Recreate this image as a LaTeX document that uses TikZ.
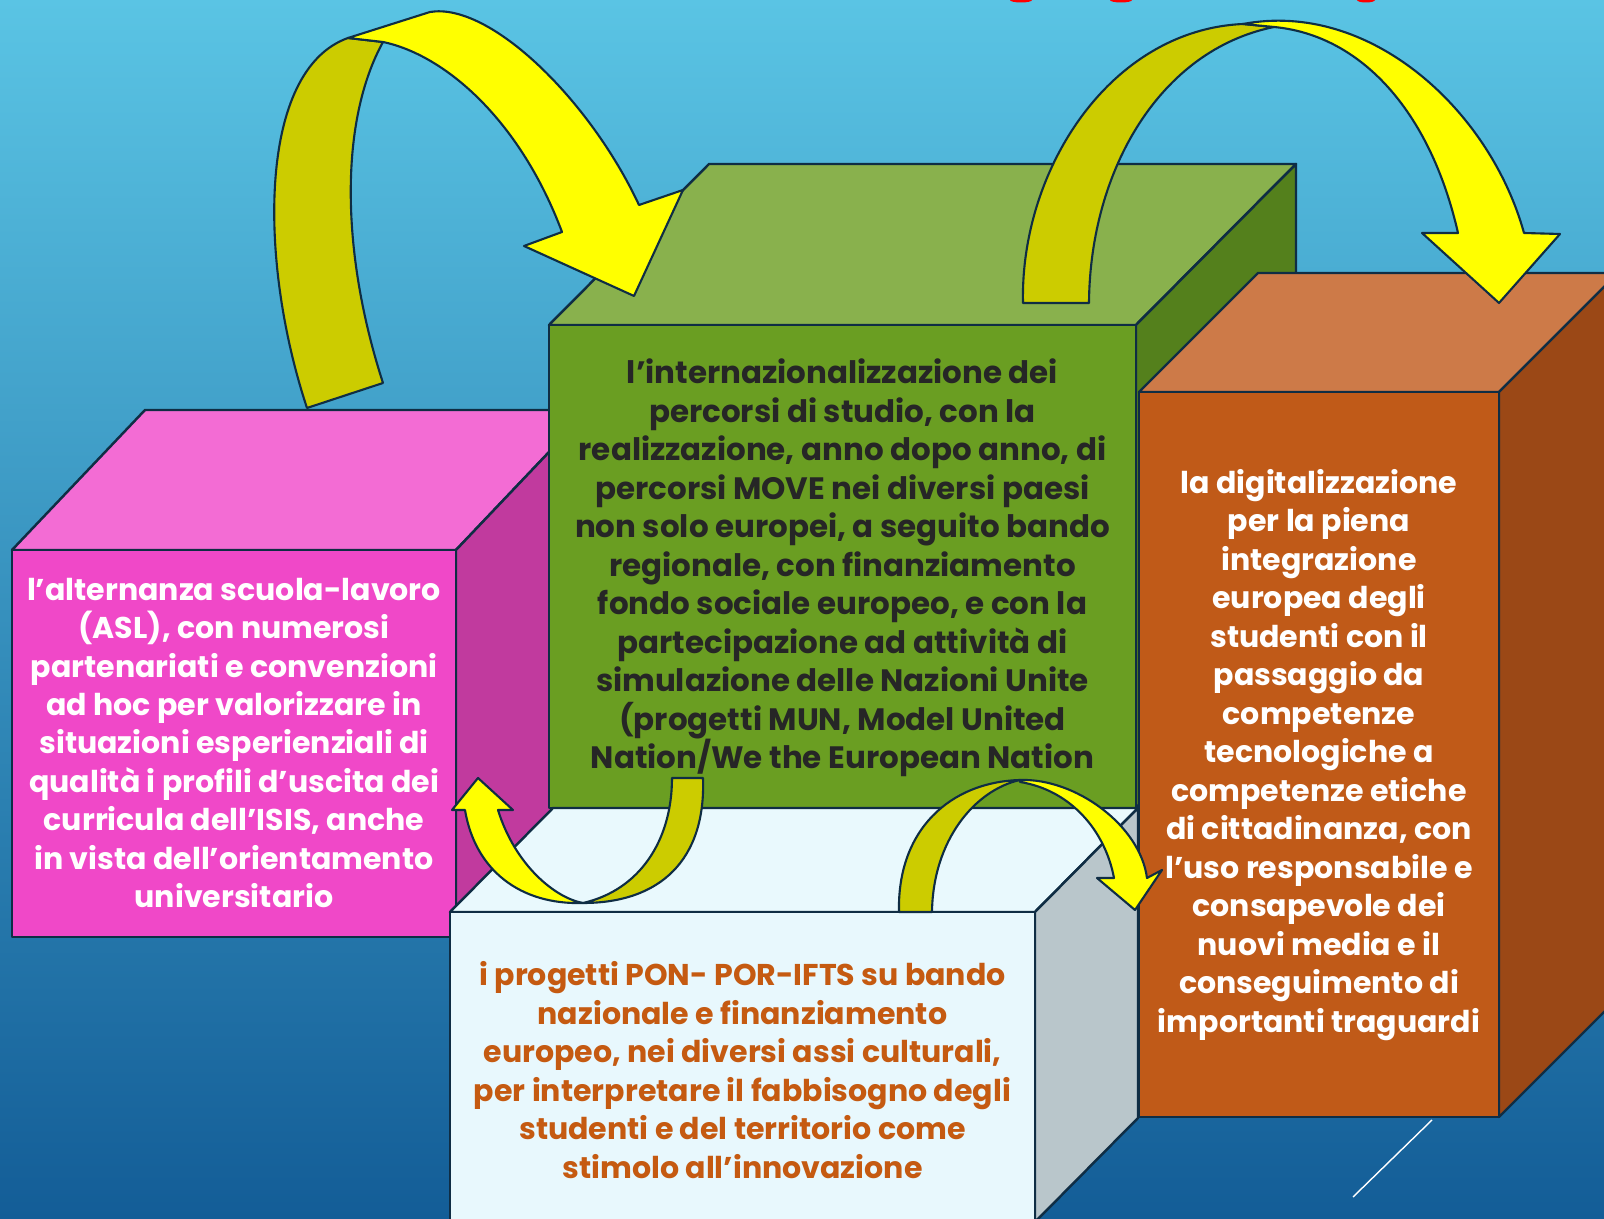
\documentclass[tikz,border=0pt]{standalone}
\usepackage{fontspec}
\setmainfont{Poppins}
\usepackage{tkz-euclide}
\definecolor{bgtop}{HTML}{5AC4E4}
\definecolor{bgbot}{HTML}{135D97}
\definecolor{edge}{HTML}{0F2D44}
\definecolor{pinkfront}{HTML}{F048C8}
\definecolor{pinktop}{HTML}{F36CD4}
\definecolor{pinkside}{HTML}{C13A9E}
\definecolor{greenfront}{HTML}{6A9E22}
\definecolor{greentop}{HTML}{89B14D}
\definecolor{greenside}{HTML}{54801C}
\definecolor{orangefront}{HTML}{C05A18}
\definecolor{orangetop}{HTML}{CD7A48}
\definecolor{orangeside}{HTML}{9B4816}
\definecolor{icefront}{HTML}{E8F8FD}
\definecolor{icetop}{HTML}{E9F9FD}
\definecolor{iceside}{HTML}{B9C6CB}
\definecolor{arrowlight}{HTML}{FFFF00}
\definecolor{arrowdark}{HTML}{CCCC00}
\definecolor{darktext}{HTML}{262626}
\definecolor{rusttext}{HTML}{C55A11}
\tikzset{face/.style={draw=edge, line width=0.7pt, line join=round},
  ribbon/.style={draw=edge, line width=0.6pt, line join=round},
  boxtext/.style={align=center, inner sep=0pt, font=\bfseries\fontsize{8.55}{10.95}\selectfont}}

\begin{document}
\begin{tikzpicture}
\useasboundingbox (0,0) rectangle (16.04,-12.19);
\clip (0,0) rectangle (16.04,-12.19);
\shade[top color=bgtop, bottom color=bgbot] (0,0) rectangle (16.04,-12.19);
% what is left of the title
\fill[red] (10.21,0) ellipse (0.11 and 0.025);
\fill[red] (11.21,0) ellipse (0.11 and 0.025);
\fill[red] (13.66,0) ellipse (0.09 and 0.025);
% pink box
\tkzDefPoints{0.12/-5.50/A, 4.56/-5.50/B, 4.56/-9.37/C, 0.12/-9.37/D, 1.45/-4.10/E, 5.89/-4.10/F, 5.89/-7.97/G}
\tkzDrawPolygon[face, fill=pinktop](A,B,F,E)
\tkzDrawPolygon[face, fill=pinkside](B,C,G,F)
\tkzDrawPolygon[face, fill=pinkfront](A,B,C,D)
\node[boxtext, text=white] (asl) at (2.34,-7.43) {l’alternanza scuola-lavoro\\(ASL), con numerosi\\partenariati e convenzioni\\ad hoc per valorizzare in\\situazioni esperienziali di\\qualità i profili d’uscita dei\\curricula dell’ISIS, anche\\in vista dell’orientamento\\universitario};
% green box
\tkzDefPoints{5.49/-3.25/A, 11.36/-3.25/B, 11.36/-8.08/C, 5.49/-8.08/D, 7.09/-1.64/E, 12.96/-1.64/F, 12.96/-6.47/G}
\tkzDrawPolygon[face, fill=greentop](A,B,F,E)
\tkzDrawPolygon[face, fill=greenside](B,C,G,F)
\tkzDrawPolygon[face, fill=greenfront](A,B,C,D)
\node[boxtext, text=darktext, font=\bfseries\fontsize{8.8}{10.95}\selectfont] (move) at (8.425,-5.68) {l’internazionalizzazione dei\\percorsi di studio, con la\\realizzazione, anno dopo anno, di\\percorsi MOVE nei diversi paesi\\non solo europei, a seguito bando\\regionale, con finanziamento\\fondo sociale europeo, e con la\\partecipazione ad attività di\\simulazione delle Nazioni Unite\\(progetti MUN, Model United\\Nation/We the European Nation};
% white box
\tkzDefPoints{4.50/-9.12/A, 10.35/-9.12/B, 10.35/-12.22/C, 4.50/-12.22/D, 5.53/-8.08/E, 11.38/-8.08/F, 11.38/-11.18/G}
\tkzDrawPolygon[face, fill=icetop](A,B,F,E)
\tkzDrawPolygon[face, fill=iceside](B,C,G,F)
\tkzDrawPolygon[face, fill=icefront](A,B,C,D)
\node[boxtext, text=rusttext] (pon) at (7.425,-10.70) {i progetti PON- POR-IFTS su bando\\nazionale e finanziamento\\europeo, nei diversi assi culturali,\\per interpretare il fabbisogno degli\\studenti e del territorio come\\stimolo all’innovazione};
% orange box
\tkzDefPoints{11.39/-3.92/A, 14.99/-3.92/B, 14.99/-11.17/C, 11.39/-11.17/D, 12.58/-2.73/E, 16.18/-2.73/F, 16.18/-9.98/G}
\tkzDrawPolygon[face, fill=orangetop](A,B,F,E)
\tkzDrawPolygon[face, fill=orangeside](B,C,G,F)
\tkzDrawPolygon[face, fill=orangefront](A,B,C,D)
\node[boxtext, text=white] (digit) at (13.19,-7.55) {la digitalizzazione\\per la piena\\integrazione\\europea degli\\studenti con il\\passaggio da\\competenze\\tecnologiche a\\competenze etiche\\di cittadinanza, con\\l’uso responsabile e\\consapevole dei\\nuovi media e il\\conseguimento di\\importanti traguardi};
% arrow pink -> green
\draw[ribbon, fill=arrowdark] (3.07,-4.08) .. controls (2.58,-2.60) and (2.58,-0.70) .. (3.48,-0.38) -- (3.83,-0.42) .. controls (3.40,-1.20) and (3.40,-2.50) .. (3.83,-3.83) -- cycle;
\draw[ribbon, fill=arrowlight] (3.48,-0.38) -- (4.30,-0.12) .. controls (4.90,-0.02) and (5.90,-1.00) .. (6.39,-2.05) -- (6.83,-1.90) -- (6.34,-2.96) -- (5.24,-2.46) -- (5.62,-2.32) .. controls (5.20,-1.20) and (4.45,-0.55) .. (3.83,-0.42) -- cycle;
% arrow green -> orange
\draw[ribbon, fill=arrowdark] (10.23,-3.03) .. controls (10.20,-1.70) and (11.10,-0.30) .. (12.43,-0.24) -- (12.74,-0.27) .. controls (11.60,-0.50) and (10.90,-1.70) .. (10.89,-3.03) -- cycle;
\draw[ribbon, fill=arrowlight] (12.43,-0.24) .. controls (13.70,0.00) and (14.90,-1.10) .. (15.24,-2.33) -- (15.60,-2.34) -- (14.99,-3.03) -- (14.22,-2.33) -- (14.58,-2.33) .. controls (14.30,-1.10) and (13.60,-0.35) .. (12.74,-0.27) -- cycle;
% arrow green -> pink
\draw[ribbon, fill=arrowdark] (6.72,-7.78) -- (7.03,-7.78) .. controls (7.06,-8.60) and (6.60,-9.03) .. (5.83,-9.03) .. controls (6.40,-8.90) and (6.72,-8.40) .. (6.72,-7.78) -- cycle;
\draw[ribbon, fill=arrowlight] (5.83,-9.03) .. controls (5.20,-9.05) and (4.75,-8.70) .. (4.65,-8.10) -- (4.52,-8.10) -- (4.78,-7.78) -- (5.13,-8.10) -- (4.98,-8.10) .. controls (5.15,-8.65) and (5.55,-8.98) .. (5.83,-9.03) -- cycle;
% arrow white -> orange
\draw[ribbon, fill=arrowdark] (8.99,-9.12) .. controls (8.97,-8.30) and (9.50,-7.82) .. (10.20,-7.80) .. controls (9.75,-7.90) and (9.33,-8.40) .. (9.32,-9.12) -- cycle;
\draw[ribbon, fill=arrowlight] (10.20,-7.80) .. controls (10.75,-7.78) and (11.40,-8.25) .. (11.47,-8.78) -- (11.62,-8.70) -- (11.35,-9.10) -- (10.97,-8.78) -- (11.14,-8.78) .. controls (11.05,-8.30) and (10.70,-7.90) .. (10.20,-7.82) -- cycle;
% slide ornament
\draw[white, line width=0.4pt] (14.32,-11.20) -- (13.53,-11.97);
\end{tikzpicture}
\end{document}
